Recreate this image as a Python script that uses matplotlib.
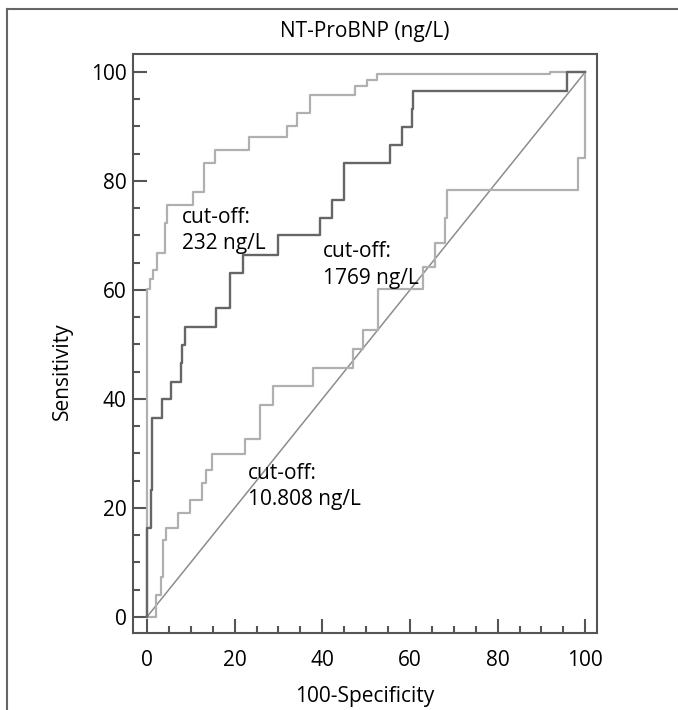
# -*- coding: utf-8 -*-

import matplotlib;
matplotlib.use("Agg");
from matplotlib import pyplot as plt;
from matplotlib.lines import Line2D;
from matplotlib.ticker import MultipleLocator;

plt.rcParams["font.family"]=["Open Sans","DejaVu Sans"];

# ROC corners (100-specificity, sensitivity), drawn as steps
fpr_232=[0,0,0.7,1.4,2.3,4.1,4.6,10.5,13.0,15.5,23.3,32.0,34.2,37.2,47.5,50.2,52.5,92.0,100];
tpr_232=[0,60.2,62.0,63.7,66.8,72.3,75.6,78.0,83.3,85.7,88.1,90.1,92.5,95.8,97.4,98.5,99.6,100,100];

fpr_1769=[0,0,0.9,1.2,3.4,5.5,7.8,8.0,8.7,15.8,18.9,21.9,29.9,39.5,42.2,45.0,55.5,58.2,60.5,60.7,95.9,100];
tpr_1769=[0,16.3,23.3,36.5,40.0,43.1,46.6,49.9,53.2,56.7,63.1,66.4,70.1,73.2,76.5,83.3,86.6,89.9,93.2,96.5,100,100];

fpr_10808=[0,2.1,3.2,3.7,4.3,7.1,9.8,12.6,13.5,14.8,22.4,25.8,28.8,37.9,47.0,49.3,52.7,63.0,65.8,68.0,68.5,98.4,100];
tpr_10808=[0,4.0,7.3,14.1,16.3,19.1,21.5,24.6,27.0,29.9,32.7,38.9,42.4,45.7,49.2,52.7,60.2,64.2,68.6,73.2,78.3,84.2,100];

ref_line=[0,100];

labels=["cut-off:\n232 ng/L","cut-off:\n1769 ng/L","cut-off:\n10.808 ng/L"];
label_pos=[(8.0,70.9),(40.2,64.6),(23.1,23.9)];

fig=plt.figure(figsize=(6.78,7.1),dpi=100);
ax=fig.add_axes([0.196,0.1085,0.685,0.8155]);

light="#b0b0b0";
dark="#666666";

ax.plot(ref_line,ref_line,color="#8c8c8c",linewidth=1.1);
ax.plot(fpr_10808,tpr_10808,drawstyle="steps-post",color=light,linewidth=1.6);
ax.plot(fpr_232,tpr_232,drawstyle="steps-post",color=light,linewidth=1.6);
ax.plot(fpr_1769,tpr_1769,drawstyle="steps-post",color=dark,linewidth=1.7);

for txt,(x,y) in zip(labels,label_pos):
    ax.text(x,y,txt,fontsize=15,va="center",ha="left",linespacing=1.35);

ax.set_xlim(-3.2,102.74);
ax.set_ylim(-2.94,103.3);
ax.set_xticks(range(0,101,20));
ax.set_yticks(range(0,101,20));
ax.xaxis.set_minor_locator(MultipleLocator(5));
ax.yaxis.set_minor_locator(MultipleLocator(5));
ax.tick_params(which="both",direction="in",color="#555555",width=1.5,labelsize=15);
ax.tick_params(which="major",length=10);
ax.tick_params(which="minor",length=5);
ax.tick_params(axis="x",pad=12);
ax.tick_params(axis="y",pad=4.5);

for s in ax.spines.values():
    s.set_color("#555555");
    s.set_linewidth(1.5);

ax.set_xlabel("100-Specificity",fontsize=15);
ax.xaxis.set_label_coords(0.5,-0.1105);
ax.xaxis.label.set_va("center");
ax.set_ylabel("Sensitivity",fontsize=15);
ax.yaxis.set_label_coords(-0.151,0.4525);
ax.yaxis.label.set_va("center");

ax.text(0.5,1.038,"NT-ProBNP (ng/L)",transform=ax.transAxes,fontsize=15,ha="center",va="center");

# outer frame, only left and top edges show
fig.add_artist(Line2D([7/678,7/678],[0,1-9/710],color="#666666",linewidth=1.5));
fig.add_artist(Line2D([7/678,1],[1-9/710,1-9/710],color="#666666",linewidth=1.5));

fig.savefig("out.png",dpi=100);
